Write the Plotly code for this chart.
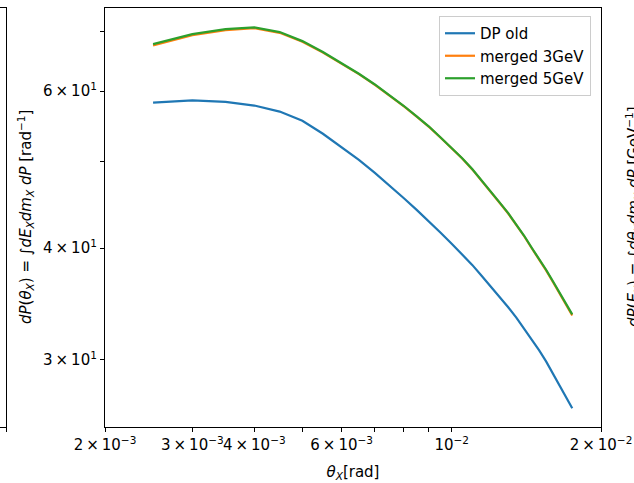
import math
import plotly.graph_objects as go

# ---- data ----
theta_x = [2.5e-3, 3.0e-3, 3.5e-3, 4.0e-3, 4.5e-3, 5.0e-3, 5.5e-3, 6.0e-3, 6.5e-3, 7.0e-3,
           7.5e-3, 8.0e-3, 8.5e-3, 9.0e-3, 9.5e-3, 10.0e-3, 10.5e-3, 11.0e-3, 11.5e-3, 12.0e-3,
           12.5e-3, 13.0e-3, 13.5e-3, 14.0e-3, 14.5e-3, 15.0e-3, 15.5e-3, 16.0e-3, 16.5e-3, 17.0e-3,
           17.5e-3]

dp_old = [58.25, 58.58, 58.35, 57.80, 56.91, 55.57, 53.74, 51.93, 50.23, 48.57,
          47.00, 45.53, 44.16, 42.89, 41.63, 40.46, 39.39, 38.31, 37.22, 36.23,
          35.24, 34.34, 33.43, 32.51, 31.58, 30.74, 29.86, 28.96, 28.11, 27.25,
          26.46]

merged_3gev = [67.50, 69.30, 70.22, 70.57, 69.73, 68.14, 66.26, 64.43, 62.68, 60.98,
               59.34, 57.73, 56.18, 54.71, 53.19, 51.76, 50.41, 49.02, 47.60, 46.29,
               44.95, 43.74, 42.51, 41.25, 39.99, 38.89, 37.77, 36.66, 35.63, 34.59,
               33.62]

merged_5gev = [67.73, 69.51, 70.41, 70.72, 69.87, 68.26, 66.36, 64.51, 62.74, 61.03,
               59.38, 57.77, 56.22, 54.75, 53.23, 51.80, 50.45, 49.06, 47.64, 46.33,
               44.99, 43.78, 42.56, 41.30, 40.04, 38.94, 37.83, 36.72, 35.69, 34.66,
               33.72]

series_names = ["DP old", "merged 3GeV", "merged 5GeV"]
series_colors = ["#1f77b4", "#ff7f0e", "#2ca02c"]

TS = "\u2009×\u2009"
x_major = [2e-3, 3e-3, 4e-3, 6e-3, 1e-2, 2e-2]
x_major_text = ["2" + TS + "10<sup>−3</sup>", "3" + TS + "10<sup>−3</sup>",
                "4" + TS + "10<sup>−3</sup>", "6" + TS + "10<sup>−3</sup>",
                "10<sup>−2</sup>", "2" + TS + "10<sup>−2</sup>"]
x_minor = [5e-3, 7e-3, 8e-3, 9e-3]
y_major = [30, 40, 60]
y_major_text = ["3" + TS + "10<sup>1</sup>", "4" + TS + "10<sup>1</sup>", "6" + TS + "10<sup>1</sup>"]
y_minor = [50, 70]

x_range = [2e-3, 2e-2]
y_range = [25.21, 74.35]

FONT = "DejaVu Sans"
W, H = 634, 483
# plot box in pixels
L, R, T, B = 105, 601, 8, 427

fig = go.Figure()
for name, vals, col in zip(series_names, [dp_old, merged_3gev, merged_5gev], series_colors):
    fig.add_trace(go.Scatter(x=theta_x, y=vals, mode="lines", name=name,
                             line=dict(color=col, width=2.2)))

fig.add_trace(go.Scatter(x=[], y=[], xaxis="x2", yaxis="y2", showlegend=False))

axis_common = dict(ticks="outside", ticklen=4, tickwidth=1, tickcolor="black",
                   showline=True, linecolor="black", linewidth=1.2, mirror=True,
                   showgrid=False, zeroline=False, automargin=False, tickangle=0,
                   tickfont=dict(family=FONT, size=15, color="black"))

fig.update_layout(
    width=W, height=H,
    margin=dict(l=0, r=0, t=0, b=0, autoexpand=False),
    paper_bgcolor="white", plot_bgcolor="white",
    font=dict(family=FONT, size=15, color="black"),
    showlegend=True,
    legend=dict(
        x=591 / W, xanchor="right",
        y=1 - 16 / H, yanchor="top",
        bgcolor="rgba(255,255,255,0.8)", bordercolor="#cccccc", borderwidth=1,
        font=dict(family=FONT, size=15),
        tracegroupgap=0,
    ),
    xaxis=dict(
        type="log", domain=[L / W, R / W],
        range=[math.log10(x_range[0]), math.log10(x_range[1])],
        tickmode="array", tickvals=x_major, ticktext=x_major_text,
        minor=dict(tickmode="array", tickvals=x_minor, ticks="outside", ticklen=4,
                   tickwidth=1, tickcolor="black", showgrid=False),
        title=dict(text="<i>θ<sub>X</sub></i>[rad]", font=dict(size=15), standoff=13),
        **axis_common,
    ),
    yaxis=dict(
        type="log", domain=[1 - B / H, 1 - T / H],
        range=[math.log10(y_range[0]), math.log10(y_range[1])],
        tickmode="array", tickvals=y_major, ticktext=y_major_text,
        minor=dict(tickmode="array", tickvals=y_minor, ticks="outside", ticklen=4,
                   tickwidth=1, tickcolor="black", showgrid=False),
        **axis_common,
    ),
    # partial neighbouring panel on the left edge
    xaxis2=dict(domain=[0, 6 / W], range=[0, 1], showline=True, mirror=True,
                linecolor="black", linewidth=1.2, showgrid=False, zeroline=False,
                tickmode="array", tickvals=[1], showticklabels=False, ticks="outside",
                ticklen=4, tickcolor="black", anchor="y2"),
    yaxis2=dict(domain=[1 - B / H, 1 - T / H], range=[0, 1], side="right",
                showline=True, linecolor="black", linewidth=1.2, showgrid=False,
                zeroline=False, showticklabels=False, ticks="", anchor="x2"),
)

fig.add_annotation(
    text="<i>dP</i>(<i>θ<sub>X</sub></i>) = ∫<i>dE<sub>X</sub>dm<sub>X</sub> dP</i> [rad<sup>−1</sup>]",
    xref="paper", yref="paper", x=25 / W, y=1 - 217 / H,
    xanchor="center", yanchor="middle", textangle=-90, showarrow=False,
    font=dict(family=FONT, size=15),
)
fig.add_annotation(
    text="<i>dP</i>(<i>E<sub>X</sub></i>) = ∫<i>dθ<sub>X</sub>dm<sub>X</sub> dP</i> [GeV<sup>−1</sup>]",
    xref="paper", yref="paper", x=633 / W, y=1 - 217 / H,
    xanchor="center", yanchor="middle", textangle=-90, showarrow=False,
    font=dict(family=FONT, size=15),
)

fig.write_html("out.html")
